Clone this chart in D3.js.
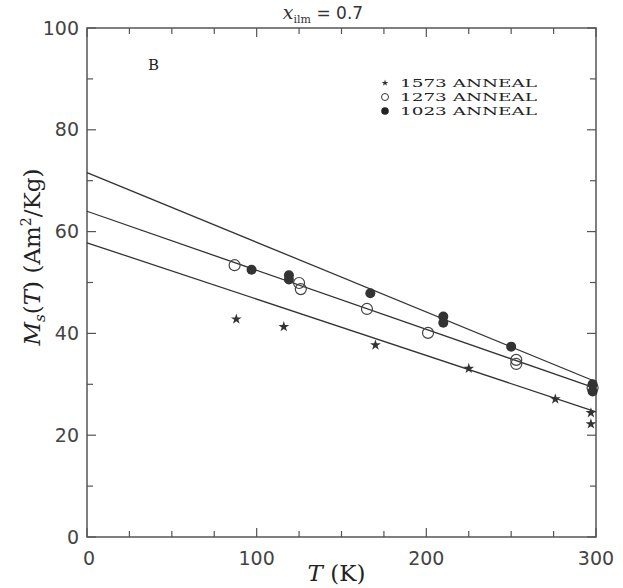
<!DOCTYPE html>
<html>
<head>
<meta charset="utf-8">
<script src="https://cdn.jsdelivr.net/npm/d3@7"></script>
<style>
  body { margin: 0; background: #fff; }
  svg { display: block; }
  .tick-label { font-family: "DejaVu Sans", sans-serif; font-size: 19px; fill: #444; }
  .serif { font-family: "DejaVu Serif", serif; fill: #222; }
</style>
</head>
<body>
<div id="chart"></div>
<script>
// chart data
var seriesNames = ["1573 ANNEAL", "1273 ANNEAL", "1023 ANNEAL"];

var starT = [88, 116, 170, 225, 276, 297, 297];
var starM = [42.8, 41.3, 37.7, 33.1, 27.1, 24.4, 22.2];

var openT = [87, 125, 126, 165, 201, 253, 253, 298];
var openM = [53.4, 49.9, 48.7, 44.8, 40.1, 34.8, 34.0, 29.3];

var filledT = [97, 119, 119, 167, 210, 210, 250, 298, 298];
var filledM = [52.5, 51.4, 50.6, 47.9, 43.3, 42.1, 37.4, 30.0, 28.6];

// fitted lines: value at T=0 and at T=300
var fitStart = [57.8, 64.0, 71.6];
var fitEnd = [24.6, 29.2, 30.5];

var xTicks = [0, 100, 200, 300];
var yTicks = [0, 20, 40, 60, 80, 100];

var width = 623,
    height = 588;
var margin = {top: 28, right: 27, bottom: 51, left: 87};
var plotW = width - margin.left - margin.right,
    plotH = height - margin.top - margin.bottom;

var svg = d3.select("#chart").append("svg")
    .attr("width", width)
    .attr("height", height);

var x = d3.scaleLinear().domain([0, 300]).range([0, plotW]);
var y = d3.scaleLinear().domain([0, 100]).range([plotH, 0]);

var g = svg.append("g")
    .attr("transform", "translate(" + margin.left + "," + margin.top + ")");

// frame
g.append("rect")
    .attr("width", plotW)
    .attr("height", plotH)
    .attr("fill", "none")
    .attr("stroke", "#555")
    .attr("stroke-width", 1.5);

// inward ticks on all four sides
var xMinor = d3.range(0, 301, 25);
var yMinor = d3.range(0, 101, 10);
function tickLen(v, step) { return v % step === 0 ? 9 : 6; }

xMinor.forEach(function(v) {
  var len = tickLen(v, 100);
  g.append("line").attr("x1", x(v)).attr("x2", x(v)).attr("y1", plotH).attr("y2", plotH - len)
    .attr("stroke", "#555").attr("stroke-width", 1.2);
  g.append("line").attr("x1", x(v)).attr("x2", x(v)).attr("y1", 0).attr("y2", len)
    .attr("stroke", "#555").attr("stroke-width", 1.2);
});
yMinor.forEach(function(v) {
  var len = tickLen(v, 20);
  g.append("line").attr("y1", y(v)).attr("y2", y(v)).attr("x1", 0).attr("x2", len)
    .attr("stroke", "#555").attr("stroke-width", 1.2);
  g.append("line").attr("y1", y(v)).attr("y2", y(v)).attr("x1", plotW).attr("x2", plotW - len)
    .attr("stroke", "#555").attr("stroke-width", 1.2);
});

// tick labels
g.selectAll(".xlab").data(xTicks).enter().append("text")
    .attr("class", "tick-label")
    .attr("x", function(d) { return x(d) + (d === 0 ? 2 : 0); })
    .attr("y", plotH + 28)
    .attr("text-anchor", "middle")
    .text(function(d) { return d; });

g.selectAll(".ylab").data(yTicks).enter().append("text")
    .attr("class", "tick-label")
    .attr("x", -8)
    .attr("y", function(d) { return y(d); })
    .attr("dy", "0.35em")
    .attr("text-anchor", "end")
    .text(function(d) { return d; });

// fit lines
var fits = fitStart.map(function(s, i) { return [[0, s], [300, fitEnd[i]]]; });
var line = d3.line().x(function(d) { return x(d[0]); }).y(function(d) { return y(d[1]); });
g.selectAll(".fit").data(fits).enter().append("path")
    .attr("d", line)
    .attr("fill", "none")
    .attr("stroke", "#333")
    .attr("stroke-width", 1.3);

// markers
var star = d3.symbol().type(d3.symbolStar).size(36);
g.selectAll(".star").data(d3.zip(starT, starM)).enter().append("path")
    .attr("d", star)
    .attr("transform", function(d) { return "translate(" + x(d[0]) + "," + y(d[1]) + ")"; })
    .attr("fill", "#333");

g.selectAll(".open").data(d3.zip(openT, openM)).enter().append("circle")
    .attr("cx", function(d) { return x(d[0]); })
    .attr("cy", function(d) { return y(d[1]); })
    .attr("r", 5.5)
    .attr("fill", "none")
    .attr("stroke", "#444")
    .attr("stroke-width", 1.2);

g.selectAll(".filled").data(d3.zip(filledT, filledM)).enter().append("circle")
    .attr("cx", function(d) { return x(d[0]); })
    .attr("cy", function(d) { return y(d[1]); })
    .attr("r", 5)
    .attr("fill", "#333");

// legend
var legend = g.append("g").attr("transform", "translate(298,55)");
seriesNames.forEach(function(name, i) {
  var row = legend.append("g").attr("transform", "translate(0," + (i * 14) + ")");
  if (i === 0) {
    row.append("path").attr("d", d3.symbol().type(d3.symbolStar).size(14)).attr("fill", "#333");
  } else if (i === 1) {
    row.append("circle").attr("r", 3.5).attr("fill", "none").attr("stroke", "#333").attr("stroke-width", 1);
  } else {
    row.append("circle").attr("r", 3.8).attr("fill", "#222");
  }
  row.append("text")
      .attr("class", "serif")
      .attr("x", 15)
      .attr("dy", "0.38em")
      .attr("font-size", 11.8)
      .attr("textLength", 137)
      .attr("lengthAdjust", "spacingAndGlyphs")
      .text(name.replace(" ", "  "));
});

// panel letter
g.append("text").attr("class", "serif")
    .attr("x", 61).attr("y", 42)
    .attr("font-size", 15)
    .text("B");

// title
var title = svg.append("text")
    .attr("x", 323).attr("y", 19)
    .attr("text-anchor", "middle")
    .attr("font-family", "DejaVu Sans, sans-serif")
    .attr("font-size", 17)
    .attr("fill", "#333");
title.append("tspan").attr("font-family", "DejaVu Serif, serif").attr("font-style", "italic").attr("font-size", 19).text("x");
title.append("tspan").attr("font-family", "DejaVu Serif, serif").attr("font-size", 11).attr("dy", 4).text("ilm");
title.append("tspan").attr("dy", -4).text("  =  0.7");

// x axis title
var xt = svg.append("text").attr("class", "serif")
    .attr("x", margin.left + x(150) - 5).attr("y", 581)
    .attr("text-anchor", "middle")
    .attr("font-size", 23);
xt.append("tspan").attr("font-style", "italic").text("T");
xt.append("tspan").text("  (K)");

// y axis title
var yt = svg.append("text").attr("class", "serif")
    .attr("transform", "translate(40," + (margin.top + y(55)) + ") rotate(-90)")
    .attr("text-anchor", "middle")
    .attr("font-size", 23);
yt.append("tspan").attr("font-style", "italic").text("M");
yt.append("tspan").attr("font-style", "italic").attr("font-size", 15).attr("dy", 5).text("s");
yt.append("tspan").attr("dy", -5).text("(");
yt.append("tspan").attr("font-style", "italic").text("T");
yt.append("tspan").text(")  (Am");
yt.append("tspan").attr("font-size", 14).attr("dy", -9).text("2");
yt.append("tspan").attr("dy", 9).text("/Kg)");
</script>
</body>
</html>
